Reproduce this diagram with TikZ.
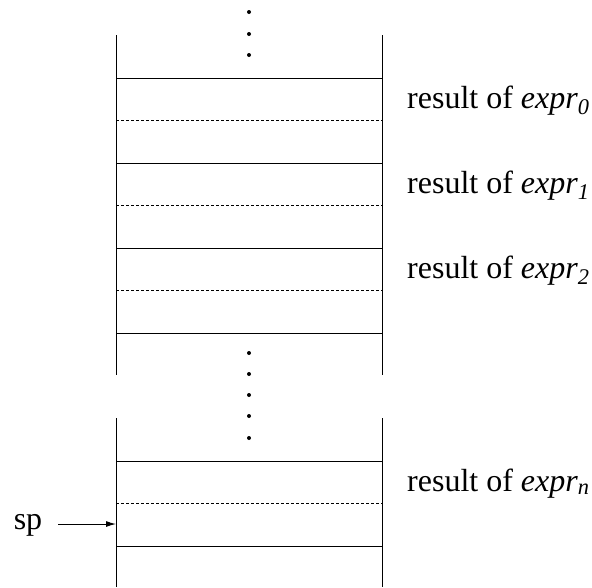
\documentclass[tikz,border=0pt]{standalone}
\usepackage{fontspec}
\setmainfont{Liberation Serif}
\usetikzlibrary{arrows.meta}
\begin{document}
\begin{tikzpicture}[x=1pt,y=-1pt,
  cell/.style={draw, line width=1pt, minimum width=266pt, minimum height=85pt, inner sep=0pt, outer sep=0pt},
  mid/.style={line width=0.6pt, dash pattern=on 3pt off 2pt},
  side/.style={line width=1pt},
  lbl/.style={anchor=base west, font=\fontsize{32}{36}\selectfont, inner sep=0pt},
  dot/.style={circle, fill=black, inner sep=0pt, minimum size=4pt}]
\useasboundingbox (0,0) rectangle (592,587);
% cells
\node[cell] (c0) at (249,120.5) {};
\node[cell] (c1) at (249,205.5) {};
\node[cell] (c2) at (249,290.5) {};
\node[cell] (cn) at (249,503.5) {};
\foreach \c in {c0,c1,c2,cn}{\draw[mid] (\c.west) -- (\c.east);}
% side lines
\coordinate (t0) at (116,35); \coordinate (t1) at (382,35);
\draw[side] (t0) -- (c0.north west);
\draw[side] (t1) -- (c0.north east);
\coordinate (m0) at (116,375); \coordinate (m1) at (382,375);
\draw[side] (c2.south west) -- (m0);
\draw[side] (c2.south east) -- (m1);
\coordinate (u0) at (116,418); \coordinate (u1) at (382,418);
\draw[side] (u0) -- (cn.north west);
\draw[side] (u1) -- (cn.north east);
\coordinate (b0) at (116,587); \coordinate (b1) at (382,587);
\draw[side] (cn.south west) -- (b0);
\draw[side] (cn.south east) -- (b1);
% dots
\foreach \y [count=\i] in {12,34,55}{\node[dot] (da\i) at (249,\y) {};}
\foreach \y [count=\i] in {353,374,395,416,438}{\node[dot] (db\i) at (249,\y) {};}
% labels
\node[lbl] (l0) at (407,108) {result of \textit{expr\textsubscript{0}}};
\node[lbl] (l1) at (407,193) {result of \textit{expr\textsubscript{1}}};
\node[lbl] (l2) at (407,278) {result of \textit{expr\textsubscript{2}}};
\node[lbl] (ln) at (407,491) {result of \textit{expr\textsubscript{n}}};
% sp
\node[lbl, anchor=base] (sp) at (28,529) {sp};
\coordinate (spa) at (58,524);
\draw[-{Latex[length=10pt,width=6pt]}, line width=1pt] (spa) -- (cn.west |- spa);
\end{tikzpicture}
\end{document}
